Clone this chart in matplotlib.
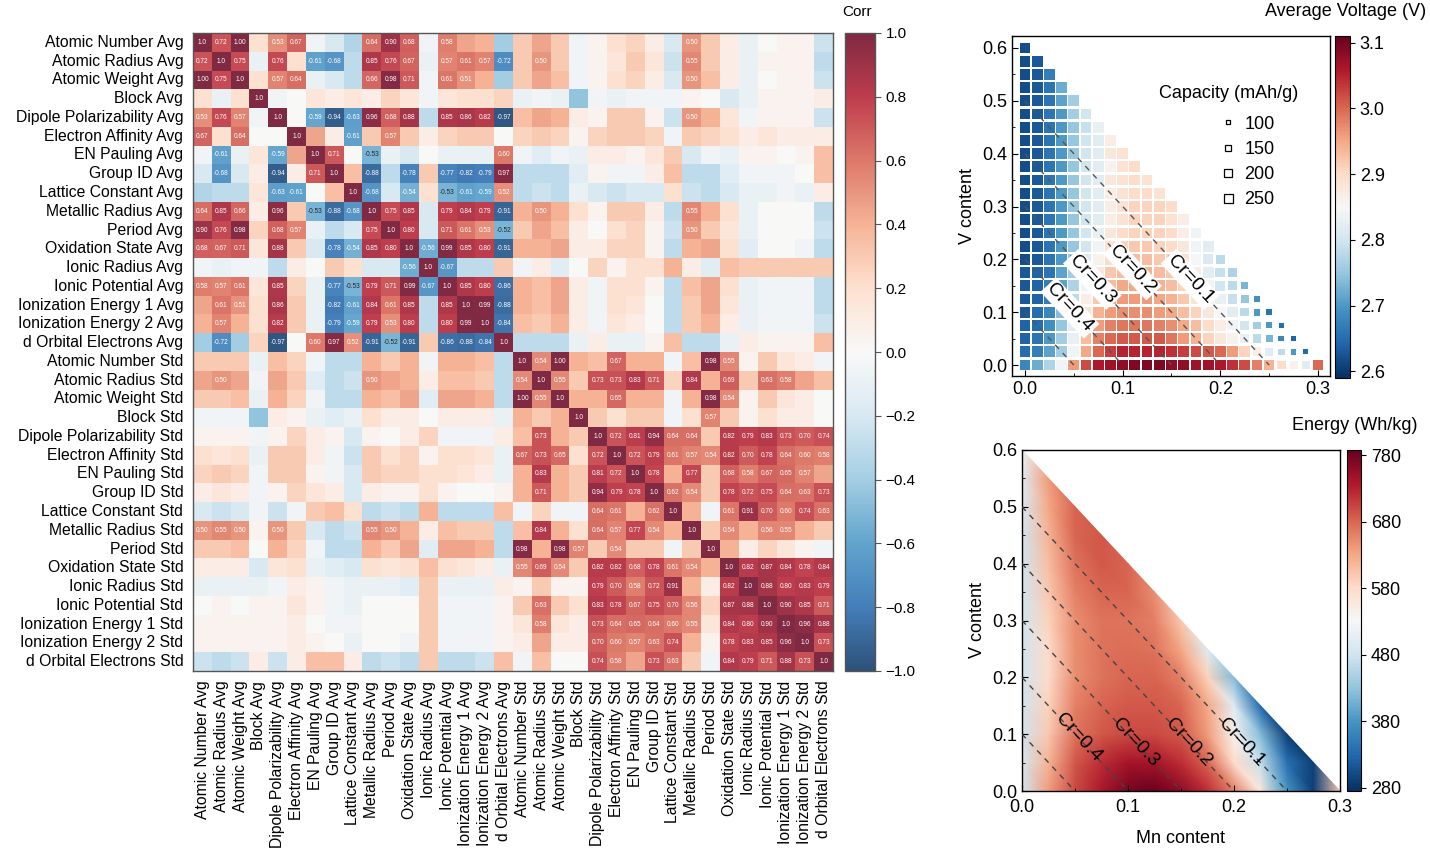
import numpy as np
import matplotlib
matplotlib.use('Agg')
import matplotlib.pyplot as plt
import matplotlib.tri as mtri
from matplotlib.colors import ListedColormap
from matplotlib.lines import Line2D
from matplotlib.ticker import MultipleLocator, FuncFormatter
import seaborn as sns

plt.rcParams['font.family'] = ['Liberation Sans', 'DejaVu Sans']

# ---------------- correlation heatmap data ----------------
features = ['Atomic Number', 'Atomic Radius', 'Atomic Weight', 'Block', 'Dipole Polarizability',
            'Electron Affinity', 'EN Pauling', 'Group ID', 'Lattice Constant', 'Metallic Radius',
            'Period', 'Oxidation State', 'Ionic Radius', 'Ionic Potential', 'Ionization Energy 1',
            'Ionization Energy 2', 'd Orbital Electrons']
names = [f + ' Avg' for f in features] + [f + ' Std' for f in features]

# lower triangle, Avg vs Avg
avg_avg = [
    [1.0],
    [0.72, 1.0],
    [1.00, 0.75, 1.0],
    [0.20, -0.10, 0.20, 1.0],
    [0.53, 0.76, 0.57, -0.05, 1.0],
    [0.67, 0.20, 0.64, 0.00, 0.00, 1.0],
    [-0.05, -0.61, -0.10, 0.15, -0.59, 0.45, 1.0],
    [-0.20, -0.68, -0.20, 0.10, -0.94, 0.10, 0.71, 1.0],
    [-0.35, -0.30, -0.30, 0.15, -0.63, -0.61, 0.00, 0.35, 1.0],
    [0.64, 0.85, 0.66, 0.10, 0.96, 0.30, -0.53, -0.88, -0.68, 1.0],
    [0.90, 0.76, 0.98, 0.25, 0.68, 0.57, -0.10, -0.30, -0.20, 0.75, 1.0],
    [0.68, 0.67, 0.71, 0.15, 0.88, 0.30, -0.20, -0.78, -0.54, 0.85, 0.80, 1.0],
    [-0.05, -0.10, -0.05, -0.05, -0.30, 0.10, 0.00, 0.30, 0.20, -0.20, -0.20, -0.56, 1.0],
    [0.58, 0.57, 0.61, 0.15, 0.85, 0.25, -0.10, -0.77, -0.53, 0.79, 0.71, 0.99, -0.67, 1.0],
    [0.45, 0.61, 0.51, 0.20, 0.86, 0.30, -0.10, -0.82, -0.61, 0.84, 0.61, 0.85, -0.30, 0.85, 1.0],
    [0.40, 0.57, 0.40, 0.20, 0.82, 0.30, -0.10, -0.79, -0.59, 0.79, 0.53, 0.80, -0.30, 0.80, 0.99, 1.0],
    [-0.40, -0.72, -0.40, 0.25, -0.97, 0.00, 0.60, 0.97, 0.52, -0.91, -0.52, -0.91, 0.30, -0.86, -0.88, -0.84, 1.0],
]

# lower triangle, Std vs Std
std_std = [
    [1.0],
    [0.54, 1.0],
    [1.00, 0.55, 1.0],
    [0.40, 0.30, 0.40, 1.0],
    [0.35, 0.73, 0.40, 0.30, 1.0],
    [0.67, 0.73, 0.65, 0.20, 0.72, 1.0],
    [0.40, 0.83, 0.40, 0.30, 0.81, 0.72, 1.0],
    [0.40, 0.71, 0.40, 0.30, 0.94, 0.79, 0.78, 1.0],
    [-0.05, 0.25, -0.05, -0.05, 0.64, 0.61, 0.40, 0.62, 1.0],
    [0.35, 0.84, 0.40, 0.20, 0.64, 0.57, 0.77, 0.54, 0.40, 1.0],
    [0.98, 0.40, 0.98, 0.57, 0.30, 0.54, 0.30, 0.30, -0.05, 0.30, 1.0],
    [0.55, 0.69, 0.54, 0.30, 0.82, 0.82, 0.68, 0.78, 0.61, 0.54, 0.40, 1.0],
    [0.05, 0.30, 0.05, 0.05, 0.79, 0.70, 0.58, 0.72, 0.91, 0.40, 0.10, 0.82, 1.0],
    [0.30, 0.63, 0.30, 0.20, 0.83, 0.78, 0.67, 0.75, 0.70, 0.56, 0.25, 0.87, 0.88, 1.0],
    [0.15, 0.58, 0.15, 0.10, 0.73, 0.64, 0.65, 0.64, 0.60, 0.55, 0.15, 0.84, 0.80, 0.90, 1.0],
    [0.10, 0.45, 0.10, 0.10, 0.70, 0.60, 0.57, 0.63, 0.74, 0.40, 0.05, 0.78, 0.83, 0.85, 0.96, 1.0],
    [-0.05, 0.35, 0.00, 0.00, 0.74, 0.58, 0.45, 0.73, 0.63, 0.30, -0.05, 0.84, 0.79, 0.71, 0.88, 0.73, 1.0],
]

# rows: Avg features, columns: Std features
avg_std = [
    [0.30, 0.45, 0.30, -0.05, 0.05, 0.20, 0.25, 0.10, -0.20, 0.50, 0.30, 0.10, -0.10, 0.00, 0.05, 0.05, -0.25],
    [0.30, 0.50, 0.30, -0.05, 0.05, 0.15, 0.30, 0.15, -0.25, 0.55, 0.30, 0.10, -0.10, 0.05, 0.05, 0.05, -0.30],
    [0.30, 0.45, 0.35, -0.05, 0.05, 0.20, 0.25, 0.10, -0.20, 0.50, 0.35, 0.10, -0.10, 0.00, 0.05, 0.05, -0.25],
    [-0.10, -0.05, -0.10, -0.45, -0.05, -0.10, -0.05, -0.05, -0.05, 0.05, 0.00, -0.20, -0.10, 0.05, 0.05, 0.05, 0.10],
    [0.35, 0.45, 0.40, 0.10, 0.05, 0.30, 0.30, 0.05, -0.25, 0.50, 0.40, 0.15, -0.05, 0.05, 0.05, 0.05, -0.25],
    [0.25, 0.30, 0.25, 0.05, 0.25, 0.30, 0.30, 0.25, -0.05, 0.30, 0.25, 0.20, 0.10, 0.15, 0.10, 0.10, 0.10],
    [-0.05, -0.15, -0.05, -0.10, 0.10, 0.10, 0.05, 0.15, 0.30, -0.20, -0.05, -0.10, 0.05, 0.05, 0.00, 0.05, 0.35],
    [-0.30, -0.30, -0.30, -0.15, 0.05, -0.05, -0.05, 0.10, 0.35, -0.30, -0.30, -0.15, -0.05, -0.05, -0.05, 0.00, 0.35],
    [-0.30, -0.25, -0.30, -0.10, -0.20, -0.25, -0.20, -0.20, 0.20, -0.25, -0.30, -0.20, -0.10, -0.10, -0.05, -0.10, 0.10],
    [0.40, 0.50, 0.40, 0.20, 0.05, 0.30, 0.30, 0.10, -0.30, 0.55, 0.40, 0.20, -0.10, 0.00, 0.00, 0.00, -0.30],
    [0.30, 0.45, 0.35, 0.10, 0.00, 0.20, 0.25, 0.05, -0.25, 0.50, 0.30, 0.15, -0.10, 0.00, 0.00, 0.00, -0.25],
    [0.40, 0.40, 0.45, 0.10, 0.10, 0.25, 0.25, 0.05, -0.30, 0.40, 0.45, 0.20, -0.15, 0.00, 0.00, -0.05, -0.30],
    [-0.05, 0.10, -0.15, 0.00, 0.25, 0.05, 0.20, 0.20, 0.40, 0.10, -0.15, 0.35, 0.30, 0.30, 0.30, 0.30, 0.30],
    [0.40, 0.35, 0.45, 0.10, -0.05, 0.20, 0.20, 0.05, -0.30, 0.35, 0.45, 0.20, -0.10, -0.05, -0.05, -0.05, -0.30],
    [0.40, 0.35, 0.45, 0.10, -0.05, 0.20, 0.15, 0.00, -0.30, 0.30, 0.45, 0.15, -0.10, -0.05, -0.05, -0.05, -0.30],
    [0.35, 0.30, 0.40, 0.10, -0.05, 0.15, 0.10, 0.00, -0.30, 0.30, 0.40, 0.10, -0.10, -0.05, -0.05, -0.05, -0.25],
    [-0.30, -0.30, -0.30, -0.10, 0.10, -0.10, -0.10, 0.05, 0.35, -0.30, -0.30, -0.10, 0.10, 0.05, 0.05, 0.05, 0.35],
]
corr_ticks = [-1.0, -0.8, -0.6, -0.4, -0.2, 0.0, 0.2, 0.4, 0.6, 0.8, 1.0]

# ---------------- voltage / capacity map data ----------------
mn_levels = [0.0, 0.0125, 0.025, 0.0375, 0.05, 0.0625, 0.075, 0.0875, 0.1, 0.1125, 0.125, 0.1375,
             0.15, 0.1625, 0.175, 0.1875, 0.2, 0.2125, 0.225, 0.2375, 0.25, 0.2625, 0.275, 0.2875, 0.3]
v_levels = [0.0, 0.025, 0.05, 0.075, 0.1, 0.125, 0.15, 0.175, 0.2, 0.225, 0.25, 0.275, 0.3,
            0.325, 0.35, 0.375, 0.4, 0.425, 0.45, 0.475, 0.5, 0.525, 0.55, 0.575, 0.6]

# one row per V level, values for increasing Mn
voltage_rows = [
    [2.68, 2.72, 2.77, 2.84, 2.96, 3.02, 3.06, 3.07, 3.08, 3.09, 3.09, 3.09, 3.08, 3.08, 3.07, 3.07, 3.06, 3.04, 3.02, 2.98, 2.94, 2.90, 2.86, 2.82, 3.00],
    [2.65, 2.67, 2.71, 2.76, 2.84, 2.95, 3.00, 3.03, 3.05, 3.05, 3.05, 3.05, 3.04, 3.03, 3.02, 3.01, 3.00, 2.96, 2.91, 2.87, 2.82, 2.78, 2.70, 2.65],
    [2.64, 2.66, 2.70, 2.76, 2.83, 2.93, 2.98, 3.00, 3.01, 3.01, 3.01, 3.01, 2.99, 2.96, 2.94, 2.91, 2.88, 2.86, 2.83, 2.78, 2.73, 2.68, 2.64],
    [2.64, 2.65, 2.69, 2.75, 2.82, 2.91, 2.96, 2.98, 2.99, 2.99, 2.99, 2.98, 2.97, 2.95, 2.93, 2.90, 2.87, 2.84, 2.80, 2.76, 2.70, 2.65],
    [2.63, 2.65, 2.68, 2.74, 2.80, 2.89, 2.94, 2.96, 2.97, 2.97, 2.97, 2.96, 2.95, 2.93, 2.91, 2.88, 2.85, 2.82, 2.78, 2.70, 2.66],
    [2.63, 2.64, 2.67, 2.72, 2.78, 2.87, 2.92, 2.95, 2.96, 2.96, 2.96, 2.95, 2.94, 2.92, 2.89, 2.86, 2.83, 2.79, 2.75, 2.69],
    [2.63, 2.64, 2.67, 2.71, 2.77, 2.84, 2.90, 2.93, 2.95, 2.95, 2.95, 2.94, 2.93, 2.91, 2.88, 2.84, 2.80, 2.78, 2.73],
    [2.63, 2.64, 2.66, 2.71, 2.76, 2.82, 2.88, 2.92, 2.93, 2.94, 2.94, 2.93, 2.92, 2.90, 2.87, 2.82, 2.79, 2.77],
    [2.62, 2.63, 2.66, 2.70, 2.76, 2.81, 2.86, 2.90, 2.92, 2.93, 2.93, 2.92, 2.91, 2.89, 2.85, 2.81, 2.78],
    [2.62, 2.63, 2.66, 2.70, 2.75, 2.80, 2.84, 2.89, 2.91, 2.92, 2.92, 2.91, 2.90, 2.88, 2.84, 2.82],
    [2.62, 2.63, 2.66, 2.70, 2.75, 2.80, 2.83, 2.88, 2.90, 2.91, 2.91, 2.91, 2.90, 2.87, 2.84],
    [2.62, 2.63, 2.66, 2.70, 2.75, 2.80, 2.82, 2.87, 2.89, 2.91, 2.91, 2.91, 2.89, 2.87],
    [2.62, 2.63, 2.66, 2.70, 2.75, 2.80, 2.82, 2.87, 2.89, 2.91, 2.91, 2.91, 2.90],
    [2.62, 2.63, 2.66, 2.70, 2.75, 2.80, 2.82, 2.87, 2.89, 2.90, 2.90, 2.89],
    [2.62, 2.63, 2.66, 2.70, 2.75, 2.80, 2.82, 2.88, 2.89, 2.90, 2.89],
    [2.62, 2.63, 2.66, 2.70, 2.75, 2.80, 2.82, 2.86, 2.89, 2.90],
    [2.62, 2.63, 2.66, 2.70, 2.75, 2.80, 2.82, 2.88, 2.89],
    [2.62, 2.63, 2.66, 2.70, 2.75, 2.80, 2.82, 2.87],
    [2.62, 2.63, 2.66, 2.70, 2.75, 2.79, 2.83],
    [2.62, 2.63, 2.66, 2.70, 2.76, 2.80],
    [2.62, 2.63, 2.66, 2.71, 2.76],
    [2.62, 2.63, 2.66, 2.72],
    [2.62, 2.63, 2.67],
    [2.62, 2.63],
    [2.62],
]

capacity_rows = [
    [300, 300, 300, 300, 300, 300, 300, 300, 300, 300, 300, 300, 300, 300, 300, 300, 300, 300, 300, 290, 260, 240, 225, 215, 300],
    [300, 300, 300, 300, 300, 300, 300, 300, 300, 300, 300, 300, 300, 300, 300, 300, 300, 300, 300, 240, 210, 180, 150, 130],
    [300, 300, 300, 300, 300, 300, 300, 300, 300, 300, 300, 300, 300, 300, 300, 300, 300, 300, 260, 230, 190, 160, 130],
    [300, 300, 300, 300, 300, 300, 300, 300, 300, 300, 300, 300, 300, 300, 300, 300, 300, 280, 250, 210, 170, 140],
    [300, 300, 300, 300, 300, 300, 300, 300, 300, 300, 300, 300, 300, 300, 300, 300, 300, 280, 240, 190, 150],
    [300, 300, 300, 300, 300, 300, 300, 300, 300, 300, 300, 300, 300, 300, 300, 300, 300, 270, 220, 170],
    [300, 300, 300, 300, 300, 300, 300, 300, 300, 300, 300, 300, 300, 300, 300, 300, 280, 250, 200],
    [300, 300, 300, 300, 300, 300, 300, 300, 300, 300, 300, 300, 300, 300, 300, 300, 270, 240],
    [300, 300, 300, 300, 300, 300, 300, 300, 300, 300, 300, 300, 300, 300, 300, 280, 260],
    [300, 300, 300, 300, 300, 300, 300, 300, 300, 300, 300, 300, 300, 300, 300, 300],
    [300, 300, 300, 300, 300, 300, 300, 300, 300, 300, 300, 300, 300, 300, 300],
    [300, 300, 300, 300, 300, 300, 300, 300, 300, 300, 300, 300, 300, 300],
    [300, 300, 300, 300, 300, 300, 300, 300, 300, 300, 300, 300, 300],
    [300, 300, 300, 300, 300, 300, 300, 300, 300, 300, 300, 300],
    [300, 300, 300, 300, 300, 300, 300, 300, 300, 300, 300],
    [300, 300, 300, 300, 300, 300, 300, 300, 300, 300],
    [300, 300, 300, 300, 300, 300, 300, 300, 300],
    [300, 300, 300, 300, 300, 300, 300, 300],
    [300, 300, 300, 300, 300, 300, 300],
    [300, 300, 300, 300, 300, 300],
    [300, 300, 300, 300, 300],
    [300, 300, 300, 300],
    [300, 300, 300],
    [300, 300],
    [300],
]
capacity_legend = [100, 150, 200, 250]
voltage_ticks = [2.6, 2.7, 2.8, 2.9, 3.0, 3.1]

# ---------------- energy map data ----------------
mn_coarse = [0.0, 0.025, 0.05, 0.075, 0.1, 0.125, 0.15, 0.175, 0.2, 0.225, 0.25, 0.275, 0.3]
v_coarse = [0.0, 0.05, 0.1, 0.15, 0.2, 0.25, 0.3, 0.35, 0.4, 0.45, 0.5, 0.55, 0.6]
energy_rows = [
    [480, 640, 700, 740, 775, 785, 760, 720, 660, 560, 380, 290, 600],
    [490, 620, 690, 720, 745, 745, 720, 680, 580, 470, 340, 290],
    [480, 600, 670, 690, 700, 700, 690, 640, 540, 420, 290],
    [480, 590, 660, 680, 690, 690, 680, 630, 500, 330],
    [480, 580, 650, 670, 680, 680, 660, 590, 420],
    [480, 580, 650, 670, 675, 670, 630, 500],
    [480, 590, 650, 670, 670, 660, 600],
    [480, 600, 660, 680, 680, 650],
    [480, 610, 670, 690, 680],
    [480, 620, 680, 690],
    [490, 630, 680],
    [500, 640],
    [520],
]
energy_ticks = [280, 380, 480, 580, 680, 780]

cr_levels = [0.1, 0.2, 0.3, 0.4, 0.5]
cr_labels_top = {0.1: 0.169, 0.2: 0.110, 0.3: 0.069, 0.4: 0.046}
cr_labels_bottom = {0.1: 0.207, 0.2: 0.157, 0.3: 0.107, 0.4: 0.053}


def full_from_lower(rows):
    n = len(rows)
    m = np.zeros((n, n))
    for i, row in enumerate(rows):
        for j, v in enumerate(row):
            m[i, j] = v
            m[j, i] = v
    return m


W, H = 1430, 865
def box(x0, y0, x1, y1):
    return [x0 / W, 1 - y1 / H, (x1 - x0) / W, (y1 - y0) / H]

fig = plt.figure(figsize=(14.3, 8.65), dpi=100)

# ---------------- heatmap ----------------
A = full_from_lower(avg_avg)
S = full_from_lower(std_std)
C = np.array(avg_std)
corr = np.block([[A, C], [C.T, S]])
n = corr.shape[0]
annot = np.full(corr.shape, '', dtype=object)
for i in range(n):
    for j in range(n):
        if i == j:
            annot[i, j] = '1.0'
        elif abs(corr[i, j]) >= 0.5:
            annot[i, j] = f'{corr[i, j]:.2f}'

# slightly washed-out RdBu_r, like the printed figure
base = plt.get_cmap('RdBu_r')(np.linspace(0, 1, 256))
base[:, :3] = base[:, :3] * 0.84 + 0.16
heat_cmap = ListedColormap(base)

ax = fig.add_axes(box(193, 33, 833, 671))
cax = fig.add_axes(box(845, 33, 875, 671))
sns.heatmap(corr, ax=ax, cbar_ax=cax, cmap=heat_cmap, vmin=-1, vmax=1,
            annot=annot, fmt='', annot_kws={'fontsize': 4.7},
            xticklabels=names, yticklabels=names)
ax.set_xticklabels(names, rotation=90, fontsize=11.3)
ax.set_yticklabels(names, rotation=0, fontsize=11.3)
ax.tick_params(length=0, pad=7)
for sp in ax.spines.values():
    sp.set_visible(True)
    sp.set_color('#555555')
    sp.set_linewidth(1)
cb0 = ax.collections[0].colorbar
cb0.outline.set_linewidth(1)
cb0.outline.set_edgecolor('#555555')
cb0.set_ticks(corr_ticks)
cb0.ax.yaxis.set_major_formatter(FuncFormatter(lambda v, p: f'{v:.1f}'.replace('-', '\u2212')))
cb0.ax.tick_params(labelsize=11, length=4, color='#555555')
fig.text(857 / W, 1 - 12 / H, 'Corr', fontsize=11, ha='center', va='center')

# ---------------- voltage scatter ----------------
ax1 = fig.add_axes(box(1012, 36, 1330, 376))
xs, ys, vs, caps = [], [], [], []
for j, (vrow, crow) in enumerate(zip(voltage_rows, capacity_rows)):
    for i, (v, c) in enumerate(zip(vrow, crow)):
        xs.append(mn_levels[i])
        ys.append(v_levels[j])
        vs.append(v)
        caps.append(c)
side_pt = np.array(caps) * 0.036 * 0.72
sc = ax1.scatter(xs, ys, c=vs, s=side_pt ** 2, marker='s', cmap='RdBu_r',
                 vmin=2.59, vmax=3.11, linewidths=0, zorder=2)
for cr in cr_levels:
    top = 0.6 - cr
    ax1.plot([0, top / 2], [top, 0], ls=(0, (4, 4)), color='#555555', lw=1, zorder=3)
for cr, xp in cr_labels_top.items():
    ax1.text(xp, 0.6 - cr - 2 * xp, f'Cr={cr}', rotation=-47, ha='center', va='center',
             rotation_mode='anchor', fontsize=14, zorder=4,
             bbox=dict(fc='white', ec='none', pad=1.5))
ax1.set_xlim(-0.0133, 0.3123)
ax1.set_ylim(-0.0208, 0.6227)
ax1.set_ylabel('V content', fontsize=13)

handles = [Line2D([], [], ls='none', marker='s', markersize=c * 0.036 * 0.72,
                  mfc='white', mec='black', mew=0.9) for c in capacity_legend]
ax1.legend(handles, [str(c) for c in capacity_legend],
           loc='upper left', bbox_to_anchor=(0.623, 0.792), frameon=False,
           fontsize=13, labelspacing=0.45, handletextpad=0.4,
           borderpad=0, handlelength=1.0)
ax1.text(0.682, 0.832, 'Capacity (mAh/g)', transform=ax1.transAxes, fontsize=13,
         ha='center', va='center')

cax1 = fig.add_axes(box(1335, 36, 1350, 378))
cb1 = fig.colorbar(sc, cax=cax1, ticks=voltage_ticks)
cb1.ax.tick_params(labelsize=13)
fig.text(1426 / W, 1 - 12 / H, 'Average Voltage (V)', fontsize=13, ha='right', va='center')

# ---------------- energy map ----------------
ax2 = fig.add_axes(box(1022, 450, 1340, 791))
ex, ey, ev = [], [], []
index = {}
for j, row in enumerate(energy_rows):
    for i, e in enumerate(row):
        index[(i, j)] = len(ex)
        ex.append(mn_coarse[i])
        ey.append(v_coarse[j])
        ev.append(e)
tris = []
for (i, j), k in index.items():
    if (i + 1, j) in index and (i, j + 1) in index:
        tris.append([k, index[(i + 1, j)], index[(i, j + 1)]])
    if (i + 1, j) in index and (i + 1, j + 1) in index and (i, j + 1) in index:
        tris.append([index[(i + 1, j)], index[(i + 1, j + 1)], index[(i, j + 1)]])
tri = mtri.Triangulation(ex, ey, tris)
tp = ax2.tripcolor(tri, ev, shading='gouraud', cmap='RdBu_r', vmin=275, vmax=788, zorder=1)
for cr in cr_levels:
    top = 0.6 - cr
    ax2.plot([0, top / 2], [top, 0], ls=(0, (4, 4)), color='#444444', lw=1, zorder=3)
for cr, xp in cr_labels_bottom.items():
    ax2.text(xp, 0.6 - cr - 2 * xp, f'Cr={cr}', rotation=-47, ha='center', va='center',
             rotation_mode='anchor', fontsize=14, zorder=4)
ax2.set_xlim(0, 0.3)
ax2.set_ylim(0, 0.6)
ax2.set_xlabel('Mn content', fontsize=13, labelpad=10)
ax2.set_ylabel('V content', fontsize=13)

cax2 = fig.add_axes(box(1347, 450, 1361, 791))
cb2 = fig.colorbar(tp, cax=cax2, ticks=energy_ticks)
cb2.ax.tick_params(labelsize=13)
fig.text(1418 / W, 1 - 425 / H, 'Energy (Wh/kg)', fontsize=13, ha='right', va='center')

for a in (ax1, ax2):
    a.set_xticks([0.0, 0.1, 0.2, 0.3])
    a.set_yticks([0.0, 0.1, 0.2, 0.3, 0.4, 0.5, 0.6])
    a.xaxis.set_minor_locator(MultipleLocator(0.05))
    a.yaxis.set_minor_locator(MultipleLocator(0.05))
    a.tick_params(which='both', direction='in', labelsize=13)
    a.tick_params(which='major', length=4)
    a.tick_params(which='minor', length=2)
    for sp in a.spines.values():
        sp.set_linewidth(1)
ax2.tick_params(axis='x', which='major', pad=6)

fig.savefig('out.png', dpi=100)
